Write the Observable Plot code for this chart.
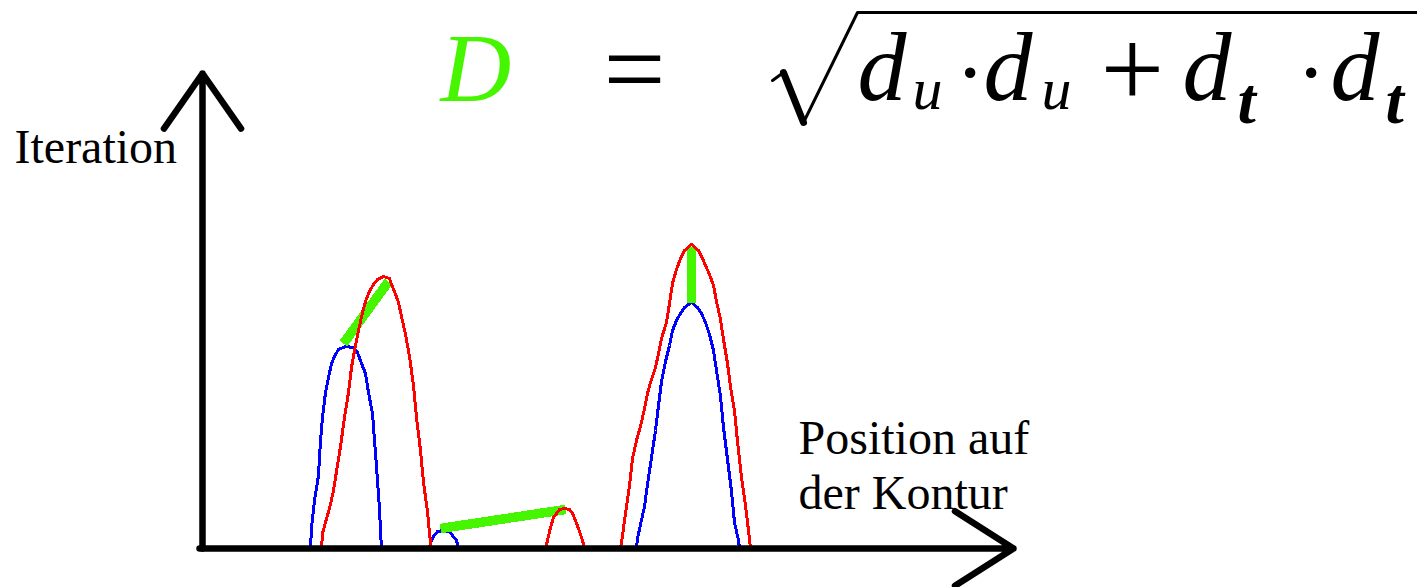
<!DOCTYPE html>
<html><head><meta charset="utf-8">
<script src="https://cdn.jsdelivr.net/npm/d3@7"></script>
<script src="https://cdn.jsdelivr.net/npm/@observablehq/plot@0.6"></script>
<style>
html,body{margin:0;padding:0;background:#fff;overflow:hidden}
#chart svg{display:block}
</style></head><body><div id="chart"></div>
<script>
// Position along the contour (x) and iteration (y)
const blueHump1 = [[108,0],[109,21],[112,48],[116,73],[118,108],[120,131],[123,156],[126,171],[129,185],[132,192],[136,199],[143,202],[151,201],[155,196],[159,185],[163,175],[166,156],[170,135],[173,95],[175,68],[177,40],[178,18],[179,0]];
const redHump1 = [[119,0],[120,15],[123,26],[127,40],[131,58],[134,77],[138,102],[142,131],[146,156],[149,181],[153,203],[156,218],[160,236],[164,250],[167,257],[171,264],[175,269],[181,272],[187,270],[189,264],[192,257],[196,246],[199,232],[203,214],[207,192],[211,163],[214,131],[218,98],[221,66],[225,37],[228,5],[229,0]];
const blueHump2 = [[227,0],[228,6],[231,12],[235,17],[241,18],[247,17],[250,13],[254,8],[256,0]];
const redHump2 = [[343,0],[345,8],[348,21],[351,31],[354,35],[357,39],[362,40],[367,39],[370,35],[373,28],[377,17],[380,8],[382,0]];
const blueHump3 = [[434,0],[435,10],[438,24],[442,42],[445,64],[449,91],[453,118],[456,143],[459,167],[463,187],[467,203],[470,218],[474,228],[478,235],[482,241],[489,246],[495,241],[499,235],[503,226],[507,214],[511,198],[514,178],[518,152],[521,121],[525,89],[529,57],[532,26],[536,8],[537,0]];
const redHump3 = [[418,0],[420,13],[423,35],[427,63],[430,90],[434,108],[438,122],[442,140],[445,155],[448,166],[453,181],[456,195],[459,210],[464,226],[467,245],[470,265],[474,279],[478,290],[482,298],[489,304],[496,298],[500,290],[503,283],[507,274],[511,263],[514,247],[518,229],[521,209],[525,185],[528,162],[532,138],[535,107],[539,71],[543,43],[546,18],[548,0]];
// distance D between matching peaks
const distance1 = [[141,205],[186,267]];
const distance2 = [[238,20],[363,39]];
const distance3 = [[489,302],[489,246]];
const axisLabels = ["Iteration", "Position auf", "der Kontur"];

const GREEN = "#46f500";
const rows = (arrs, prefix) => arrs.flatMap((a, k) => a.map(([x, y]) => ({x, y, s: prefix + k})));
const blueRows = rows([blueHump1, blueHump2, blueHump3], "b");
const redRows = rows([redHump1, redHump2, redHump3], "r");
const greenRows = rows([distance1, distance2, distance3], "g");

const serif = "Liberation Serif, Times New Roman, serif";
const T = (text, x, y, o = {}) => Plot.text([text], {x: () => x, y: () => y, text: d => d, textAnchor: "start", lineAnchor: "bottom", fontFamily: serif, fill: "black", ...o});

const chart = Plot.plot({
  width: 1417, height: 587,
  marginLeft: 202, marginRight: 405, marginTop: 72, marginBottom: 39,
  x: {domain: [0, 810], axis: null},
  y: {domain: [0, 476], axis: null},
  style: {background: "white", overflow: "visible"},
  marks: [
    Plot.line(blueRows, {x: "x", y: "y", z: "s", stroke: "#0000ff", strokeWidth: 3, shapeRendering: "crispEdges"}),
    Plot.line(greenRows, {x: "x", y: "y", z: "s", stroke: GREEN, strokeWidth: 9.5, strokeLinecap: "butt", shapeRendering: "crispEdges"}),
    Plot.line(redRows, {x: "x", y: "y", z: "s", stroke: "#ff0000", strokeWidth: 3, shapeRendering: "crispEdges"}),
    Plot.arrow([0], {x1: 0, y1: 0, x2: 0, y2: 475, stroke: "black", strokeWidth: 6.5, headLength: 15.5, headAngle: 70}),
    Plot.arrow([0], {x1: -3, y1: 0, x2: 811, y2: 0, stroke: "black", strokeWidth: 6.5, headLength: 16, headAngle: 65}),
    T(axisLabels[0], -188, 386, {fontSize: 48}),
    T(axisLabels[1], 596, 95, {fontSize: 48}),
    T(axisLabels[2], 596, 40, {fontSize: 48}),
    // formula D = sqrt(du*du + dt*dt)
    T("D", 238, 448, {fontSize: 98, fontStyle: "italic", fill: GREEN}),
    T("=", 401, 443, {fontSize: 110}),
    Plot.line([[570,468],[581,476]], {x: d => d[0], y: d => d[1], stroke: "black", strokeWidth: 3}),
    Plot.line([[581,476],[601,426]], {x: d => d[0], y: d => d[1], stroke: "black", strokeWidth: 7}),
    Plot.line([[601,426],[655,536],[1215,536]], {x: d => d[0], y: d => d[1], stroke: "black", strokeWidth: 3}),
    T("d", 655, 449, {fontSize: 98, fontStyle: "italic"}),
    T("u", 710, 440, {fontSize: 60, fontStyle: "italic"}),
    T("·", 753, 447, {fontSize: 88}),
    T("d", 781, 449, {fontSize: 98, fontStyle: "italic"}),
    T("u", 839, 440, {fontSize: 60, fontStyle: "italic"}),
    T("+", 898, 442, {fontSize: 113}),
    T("d", 980, 449, {fontSize: 98, fontStyle: "italic"}),
    T("t", 1035, 426, {fontSize: 66, fontStyle: "italic", fontWeight: "bold"}),
    T("·", 1094, 447, {fontSize: 88}),
    T("d", 1128, 449, {fontSize: 98, fontStyle: "italic"}),
    T("t", 1183, 426, {fontSize: 66, fontStyle: "italic", fontWeight: "bold"})
  ]
});
document.getElementById("chart").append(chart);
</script></body></html>
